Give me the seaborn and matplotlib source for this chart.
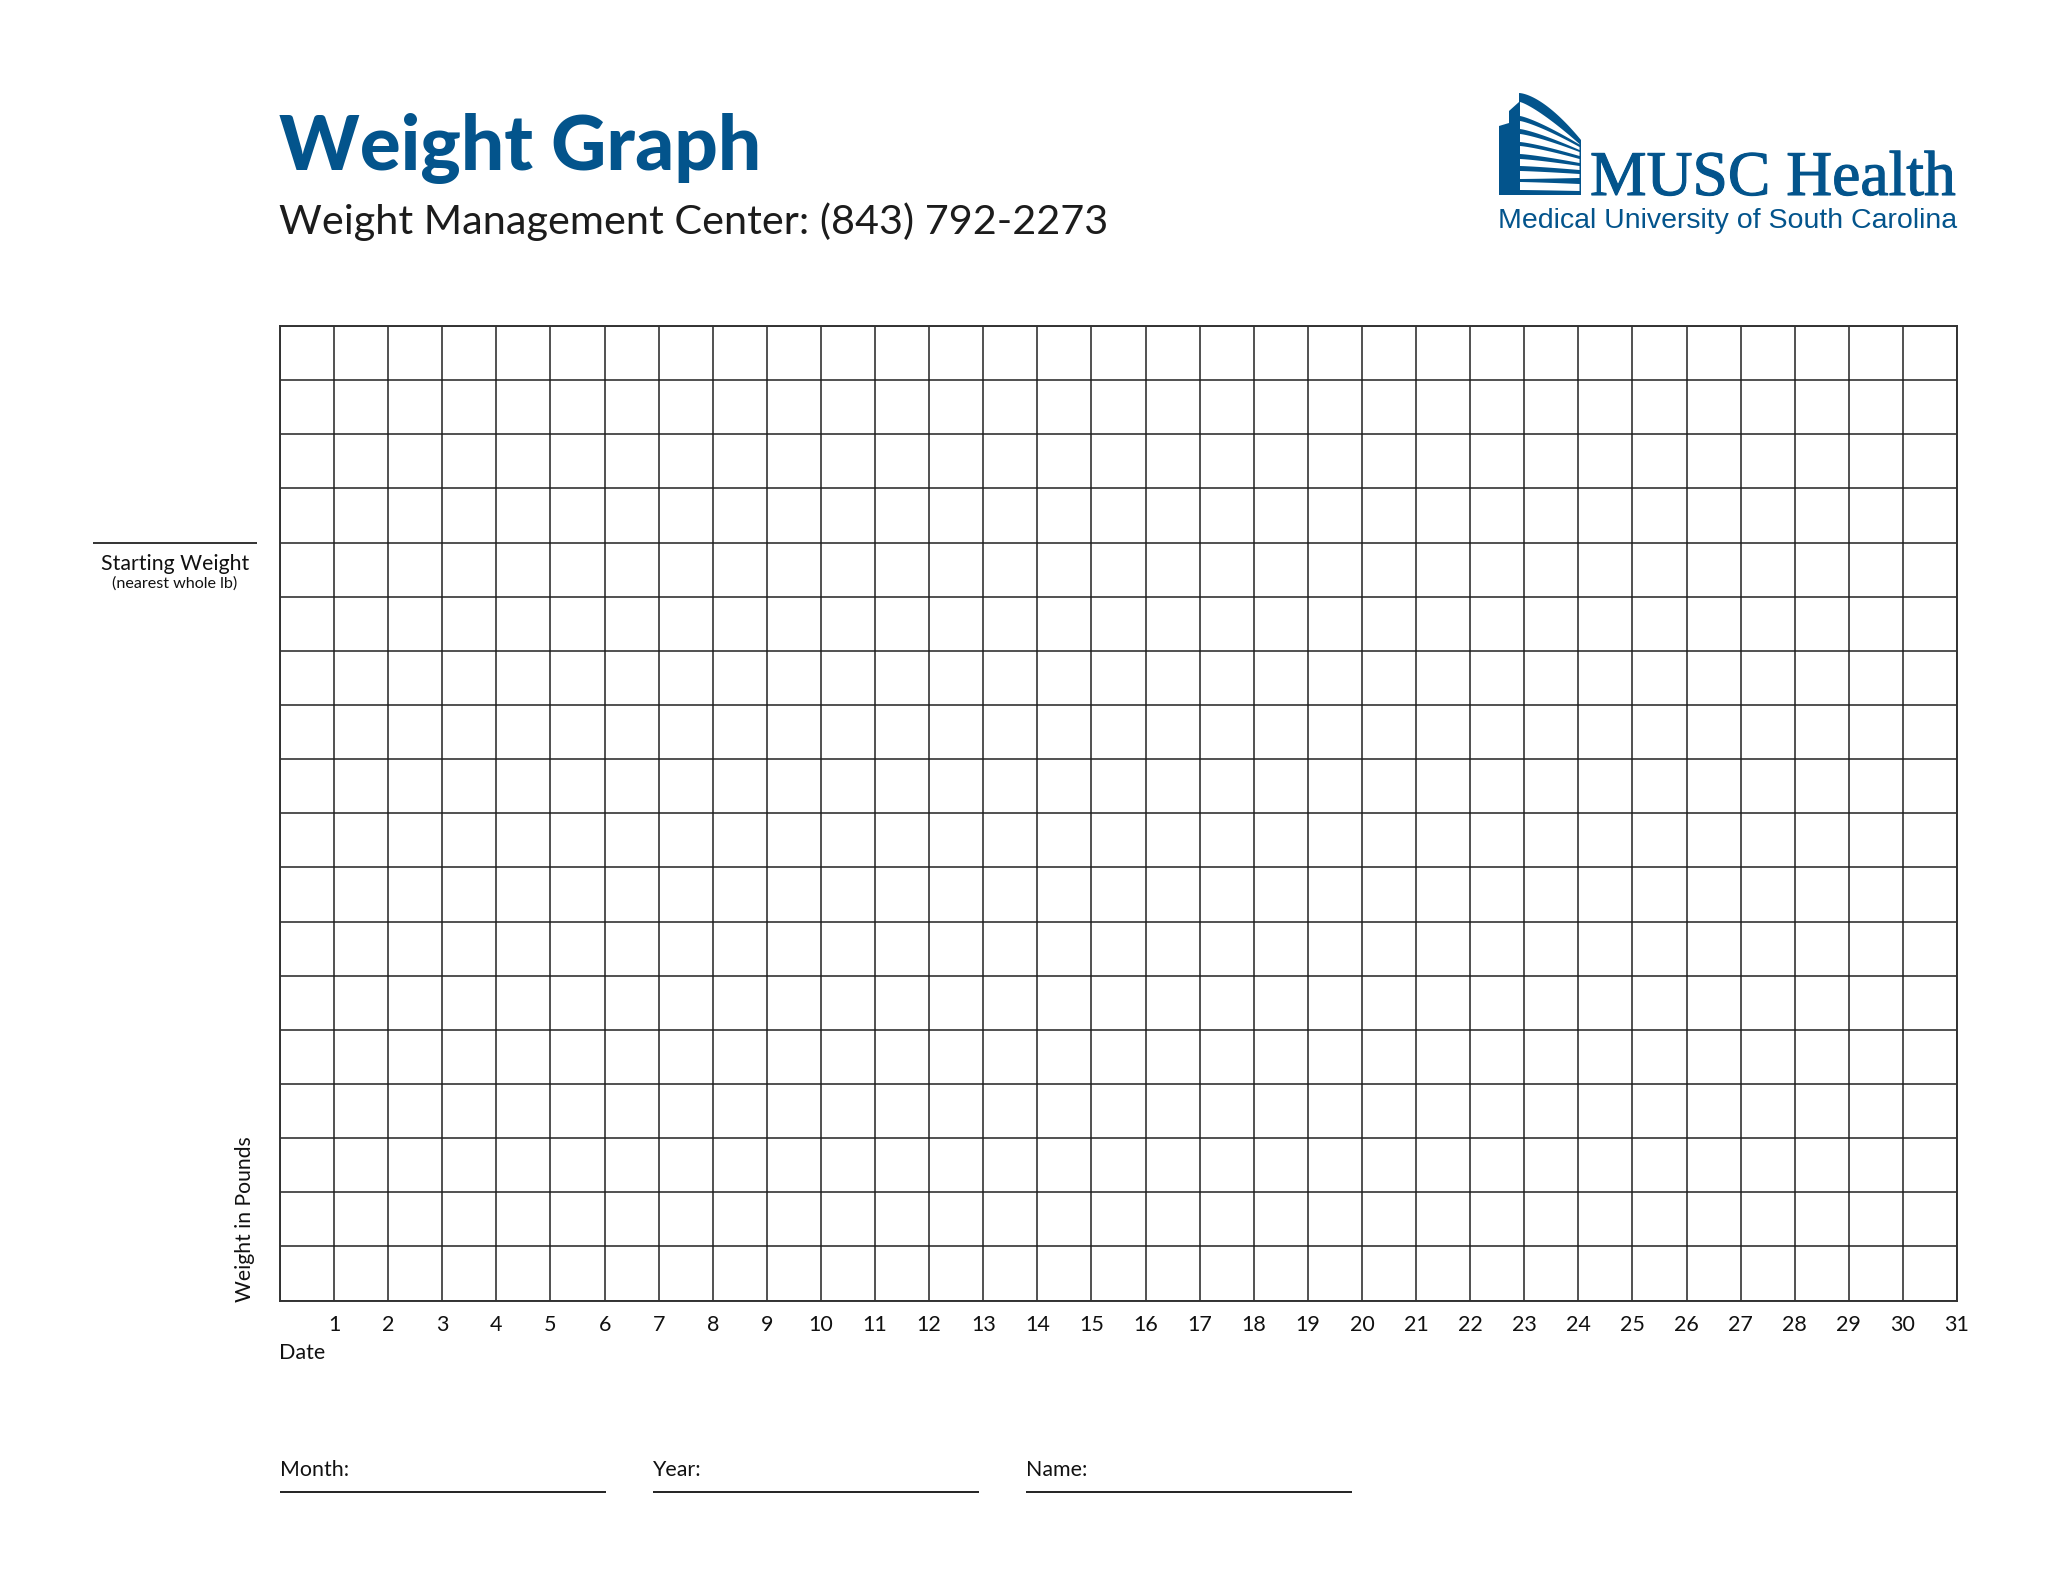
import matplotlib
matplotlib.use("Agg")
import matplotlib.pyplot as plt
import matplotlib.patheffects as pe
from matplotlib.patches import Polygon
import numpy as np
import seaborn as sns

days = list(range(0, 32))
day_labels = [""] + [str(d) for d in range(1, 32)]
rows = list(range(0, 19))
weights = []          # the form is blank: no weight has been recorded
dates = []
BLUE = "#03548C"
INK = "#333333"
W, H = 2050, 1584

sns.set_theme(style="white")
plt.rcParams["font.family"] = ["Lato", "DejaVu Sans"]
fig = plt.figure(figsize=(W / 100, H / 100), dpi=100, facecolor="white")

L, R, T, B = 280, 1957, 326, 1300.5
ax = fig.add_axes([L / W, 1 - B / H, (R - L) / W, (B - T) / H])
sns.lineplot(x=dates, y=weights, ax=ax)
ax.set_xlim(0, 31)
ax.set_ylim(0, 18)
ax.set_xticks(days)
ax.set_xticklabels(day_labels, fontsize=15.5, color="#111111")
ax.set_yticks(rows)
ax.set_yticklabels([])
ax.tick_params(length=0, pad=10.5)
ax.grid(True, color="#222222", lw=1.1)
ax.set_axisbelow(True)
for s in ax.spines.values():
    s.set_visible(True)
    s.set_color(INK)
    s.set_linewidth(1.4)

# overlay in pixel coordinates for page furniture
pg = fig.add_axes([0, 0, 1, 1], facecolor="none")
pg.set_xlim(0, W)
pg.set_ylim(H, 0)
pg.axis("off")

pg.text(279, 170, "Weight Graph", fontsize=55, fontweight="black", color=BLUE, va="baseline", ha="left")
pg.text(279, 234, "Weight Management Center: (843) 792-2273", fontsize=29.8, color="#1c1c1c", va="baseline", ha="left")

pg.text(279, 1359, "Date", fontsize=15.5, color="#111111", va="baseline", ha="left")
pg.text(245, 1302, "Weight in Pounds", fontsize=15.2, color="#111111", rotation=90, va="bottom", ha="center")

pg.plot([93, 257], [542.5, 542.5], color=INK, lw=1.4, solid_capstyle="butt")
pg.text(175, 570, "Starting Weight", fontsize=15.3, color="#111111", ha="center", va="baseline")
pg.text(175, 588, "(nearest whole lb)", fontsize=11.6, color="#111111", ha="center", va="baseline")

for x0, lab in [(280, "Month:"), (652.5, "Year:"), (1025.5, "Name:")]:
    pg.plot([x0, x0 + 326], [1492, 1492], color="#222222", lw=1.4, solid_capstyle="butt")
    pg.text(x0, 1476, lab, fontsize=15.4, color="#111111", ha="left", va="baseline")

# logo: building
xl, xr = 1519.0, 1581.0
t = np.linspace(0, 1, 40)
xs = xl + (xr - xl) * t
roof = 93 + (140 - 93) * t ** 1.6
outline = [(1499, 195), (1499, 126), (1509, 123), (1509, 111), (1519, 102)] + list(zip(xs, roof)) + [(xr, 195)]
pg.add_patch(Polygon(outline, closed=True, fc=BLUE, ec="none"))
# white floors (left y top, left y bottom, right y top, right y bottom)
floors = [(102, 116, 144, 144.5), (121, 129, 147, 150), (134, 142, 152, 156), (146, 154, 159, 163),
          (159, 166, 166, 170), (171, 179, 174, 178), (182, 190, 184, 191)]
for a, b, c, d in floors:
    tf = np.linspace(0, 1, 30)
    xf = 1520 + (1579.5 - 1520) * tf
    top = a + (c - a) * tf ** 1.25
    bot = b + (d - b) * tf ** 1.25
    pts = list(zip(xf, top)) + list(zip(xf[::-1], bot[::-1]))
    pg.add_patch(Polygon(pts, closed=True, fc="white", ec="none"))

pg.text(1590, 195, "MUSC Health", fontsize=45.8, family="Liberation Serif", color=BLUE, ha="left", va="baseline",
        path_effects=[pe.withStroke(linewidth=0.8, foreground=BLUE)])
pg.text(1498, 228, "Medical University of South Carolina", fontsize=20.5, family="Liberation Sans", color=BLUE, ha="left", va="baseline")

fig.savefig("out.png", dpi=100, facecolor="white")
